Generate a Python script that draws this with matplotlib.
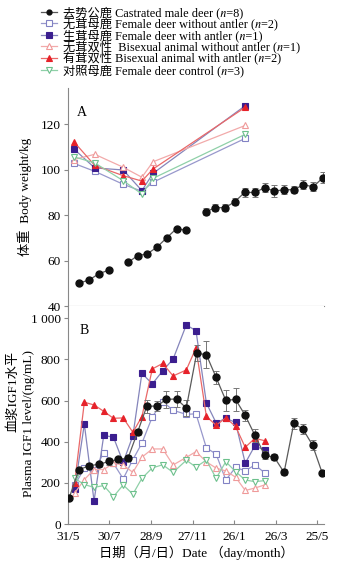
import numpy as np
import matplotlib
matplotlib.use("Agg")
import matplotlib.pyplot as plt

plt.rcParams['font.family'] = ['Liberation Serif', 'Noto Sans CJK SC', 'STIXGeneral']
plt.rcParams['font.size'] = 9.5

# ---- data (days counted from 31/5) ----
date_ticks = [0, 60, 120, 180, 240, 300, 360]
date_labels = ['31/5', '30/7', '28/9', '27/11', '26/1', '26/3', '25/5']

# panel A: body weight
days_a_black = [16, 31, 45, 59, 73, 87, 101, 115, 129, 143, 157, 171, 185,
                199, 213, 227, 241, 255, 270, 284, 298, 312, 326, 340, 354, 368]
wt_black = [50.0, 51.5, 54.2, 55.8, np.nan, 59.2, 62.2, 63.0, 66.0, 70.1, 74.1, 73.3, np.nan,
            81.5, 83.3, 83.3, 85.9, 90.0, 90.0, 92.1, 90.6, 91.2, 91.2, 93.4, 92.5, 96.5]
wt_black_err = [0.6, 0.6, 0.6, 0.6, np.nan, 0.8, 0.8, 0.8, 0.8, 0.8, 0.8, 0.8, np.nan,
                1.5, 1.5, 1.5, 1.5, 1.8, 1.8, 2.0, 2.5, 2.0, 1.5, 2.0, 2.0, 2.5]

days_a_col = [9, 39, 80, 107, 123, 256]
wt_fwo = [102.8, 99.3, 93.6, 90.5, 94.5, 113.8]    # female without antler
wt_fwa = [109.1, 100.8, 99.9, 90.8, 98.4, 128.2]   # female with antler
wt_bwo = [104.5, 106.8, 101.1, 96.7, 103.5, 119.5] # bisexual without antler
wt_bwa = [112.3, 101.9, 97.4, 95.0, 100.3, 127.5]  # bisexual with antler
wt_ctrl = [105.7, 103.0, 95.2, 89.3, 96.2, 115.6]  # female control

# panel B: plasma IGF1
days_b_black = [2, 16, 31, 45, 59, 73, 87, 101, 114, 129, 142, 157, 171, 186,
                200, 214, 228, 242, 256, 270, 284, 298, 312, 326, 339, 353, 367]
igf_black = [125, 263, 284, 290, 304, 314, 321, 449, 572, 574, 606, 608, 564, 831,
             823, 713, 601, 606, 528, 431, 335, 324, 251, 489, 462, 384, 248]
igf_black_err = [8, 12, 15, 12, 15, 12, 15, 15, 30, 25, 40, 40, 40, 40,
                 65, 30, 50, 55, 25, 30, 20, 15, 15, 25, 25, 25, 12]

days_b_col = [10, 24, 38, 52, 66, 80, 94, 107, 122, 137, 152, 171, 185, 200,
              214, 228, 242, 256, 270, 284]
igf_fwo = [188, 271, 262, 345, 295, 220, 313, 393, 521, 595, 553, 533, 536, 370,
           340, 214, 275, 259, 287, 249]
igf_fwa = [169, 486, 112, 431, 422, 300, 429, 733, 681, 745, 802, 968, 940, 588,
           492, 514, 494, 296, 381, 358]
igf_bwo = [150, 216, 265, 265, 295, 287, 251, 325, 365, 365, 287, 324, 352, 302,
           272, 258, 228, 163, 175, 190]
igf_bwa = [200, 592, 579, 548, 514, 516, 446, 522, 754, 781, 720, 749, 856, 523,
           480, 516, 475, 373, 417, 405]
igf_ctrl = [222, 192, 178, 187, 133, 190, 145, 222, 273, 288, 251, 310, 277, 311,
            222, 303, 255, 214, 206, 211]

labels = [
    '去势公鹿 Castrated male deer (\U0001D45B=8)',
    '无茸母鹿 Female deer without antler (\U0001D45B=2)',
    '生茸母鹿 Female deer with antler (\U0001D45B=1)',
    '无茸双性  Bisexual animal without antler (\U0001D45B=1)',
    '有茸双性 Bisexual animal with antler (\U0001D45B=2)',
    '对照母鹿 Female deer control (\U0001D45B=3)',
]

# style per series: (line colour, marker, face, edge)
styles = [
    ('#5a5a5a', 'o', '#111111', '#111111'),
    ('#9898cc', 's', 'white', '#8282c4'),
    ('#8585bb', 's', '#3b1e8f', '#3b1e8f'),
    ('#f2aaaa', '^', 'white', '#ef9a9a'),
    ('#ea6868', '^', '#e6222a', '#e6222a'),
    ('#8fd0a8', 'v', 'white', '#6cc08c'),
]

fig = plt.figure(figsize=(3.52, 5.72), dpi=100)
axA = fig.add_axes([0.1923, 0.465, 0.729, 0.3812])
axB = fig.add_axes([0.1923, 0.0839, 0.729, 0.3811])


def draw_col(ax, x, y, st, lab):
    lc, m, fc, ec = st
    ms = 4.2 if m == 's' else 4.5
    h, = ax.plot(x, y, color=lc, lw=0.9, marker=m, ms=ms, mfc=fc, mec=ec,
                 mew=0.8, label=lab, zorder=3)
    return h


# panel A
axA.errorbar(days_a_black, wt_black, yerr=wt_black_err, color=styles[0][0], lw=0.9,
             marker='o', ms=5, mfc='#111111', mec='#111111', ecolor='#777777',
             elinewidth=0.7, capsize=2, capthick=0.7, zorder=4)
for y, st in zip([wt_fwo, wt_fwa, wt_bwo, wt_bwa, wt_ctrl], styles[1:]):
    draw_col(axA, days_a_col, y, st, None)

# panel B
axB.errorbar(days_b_black, igf_black, yerr=igf_black_err, color=styles[0][0], lw=0.9,
             marker='o', ms=5, mfc='#111111', mec='#111111', ecolor='#777777',
             elinewidth=0.7, capsize=2, capthick=0.7, zorder=4)
handles = [axB.plot([], [], color=styles[0][0], lw=0.9, marker='o', ms=3.5,
                    mfc='#111111', mec='#111111')[0]]
for y, st, lab in zip([igf_fwo, igf_fwa, igf_bwo, igf_bwa, igf_ctrl], styles[1:], labels[1:]):
    handles.append(draw_col(axB, days_b_col, y, st, lab))

for ax in (axA, axB):
    ax.set_xlim(0, 370)
    ax.spines['top'].set_visible(False)
    ax.spines['right'].set_visible(False)
    ax.spines['left'].set_color('#888888')
    ax.spines['bottom'].set_color('#888888')
    ax.set_xticks(date_ticks)
    ax.tick_params(axis='y', direction='out', length=3, color='#888888', pad=2)

axA.set_ylim(40, 136)
axA.set_yticks([40, 60, 80, 100, 120])
axA.tick_params(axis='x', direction='out', length=3, color='#888888', labelbottom=False)
axA.set_ylabel('体重  Body weight/kg', labelpad=6)
axA.text(0.035, 0.87, 'A', transform=axA.transAxes, fontsize=10)

axB.set_ylim(0, 1060)
axB.set_yticks([0, 200, 400, 600, 800, 1000])
axB.set_yticklabels(['0', '200', '400', '600', '800', '1 000'])
axB.set_xticklabels(date_labels)
axB.tick_params(axis='x', direction='in', length=3, color='#888888', pad=5)
axB.text(0.045, 0.87, 'B', transform=axB.transAxes, fontsize=10)
axB.set_xlabel('日期（月/日）Date （day/month）', labelpad=2)

fig.text(0.038, 0.315, '血浆IGF1水平', rotation=90, ha='center', va='center')
fig.text(0.083, 0.26, 'Plasma IGF1 level/(ng/mL)', rotation=90, ha='center', va='center')

fig.legend(handles, labels, loc='upper left', bbox_to_anchor=(0.10, 1.0),
           frameon=False, handlelength=1.3, handletextpad=0.5, labelspacing=-0.1,
           borderaxespad=0.1, fontsize=8.8)

fig.savefig('out.png', dpi=100)
